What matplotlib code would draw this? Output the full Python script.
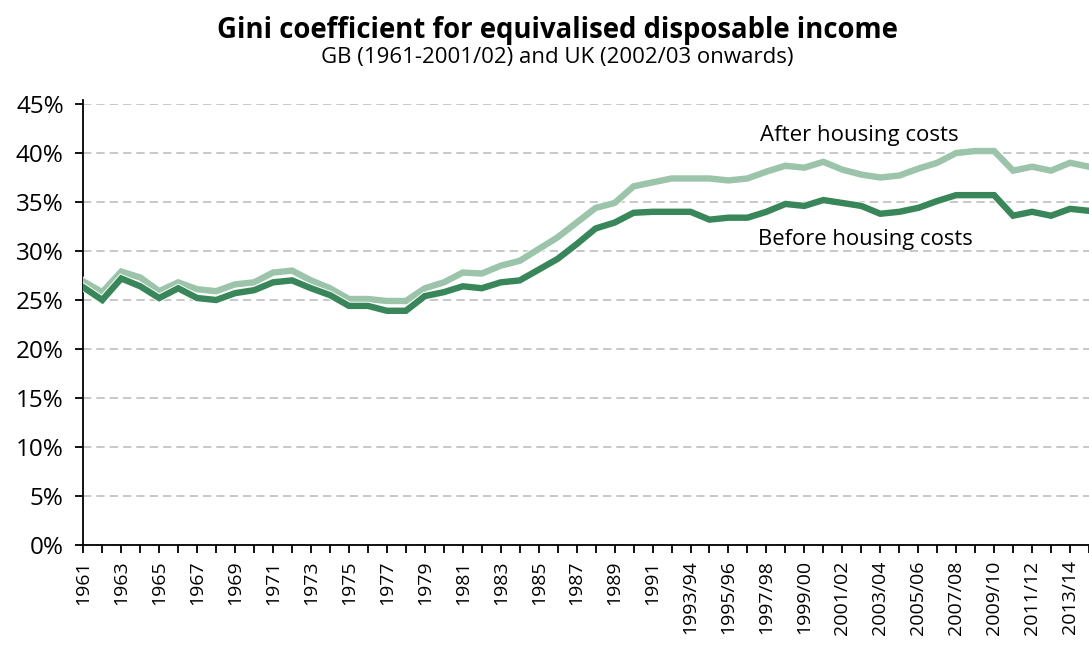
import matplotlib
matplotlib.use("Agg")
import matplotlib.pyplot as plt
import matplotlib.patheffects as pe

plt.rcParams["font.family"] = ["Open Sans", "DejaVu Sans"]

years = [str(y) for y in range(1961, 1993)] + [
    "%d/%02d" % (y, (y + 1) % 100) for y in range(1993, 2015)
]

# Gini, % (before housing costs)
bhc = [26.3, 25.0, 27.2, 26.4, 25.2, 26.2, 25.2, 25.0, 25.7, 26.0,
       26.8, 27.0, 26.2, 25.5, 24.4, 24.4, 23.9, 23.9, 25.4, 25.8,
       26.4, 26.2, 26.8, 27.0, 28.1, 29.2, 30.7, 32.3, 32.9, 33.9,
       34.0, 34.0, 34.0, 33.2, 33.4, 33.4, 34.0, 34.8, 34.6, 35.2,
       34.9, 34.6, 33.8, 34.0, 34.4, 35.1, 35.7, 35.7, 35.7, 33.6,
       34.0, 33.6, 34.3, 34.1]

# Gini, % (after housing costs)
ahc = [26.9, 25.8, 27.9, 27.3, 25.9, 26.8, 26.1, 25.9, 26.6, 26.8,
       27.8, 28.0, 27.0, 26.2, 25.1, 25.1, 24.9, 24.9, 26.2, 26.8,
       27.8, 27.7, 28.5, 29.0, 30.2, 31.4, 32.9, 34.4, 34.9, 36.6,
       37.0, 37.4, 37.4, 37.4, 37.2, 37.4, 38.1, 38.7, 38.5, 39.1,
       38.3, 37.8, 37.5, 37.7, 38.4, 39.0, 40.0, 40.2, 40.2, 38.2,
       38.6, 38.2, 39.0, 38.6]

dark = "#38865a"
light = "#9bc4aa"

fig = plt.figure(figsize=(10.89, 6.45), dpi=100)
ax = fig.add_axes([83.3 / 1089, 1 - 545 / 645, 1 - 83.3 / 1089, 441 / 645])

x = list(range(len(years)))
outline = [pe.Stroke(linewidth=6.0, foreground="white"), pe.Normal()]
ax.plot(x, ahc, color=light, lw=4.6, solid_joinstyle="miter",
        path_effects=outline, zorder=3)
ax.plot(x, bhc, color=dark, lw=4.6, solid_joinstyle="miter",
        path_effects=outline, zorder=4)

ax.set_xlim(0, 52.76)
ax.set_ylim(0, 45)
ax.set_yticks(range(0, 50, 5))
ax.set_yticklabels(["%d%%" % v for v in range(0, 50, 5)], fontsize=17.5)
ax.set_xticks(x)
ax.set_xticklabels([lab if i % 2 == 0 else "" for i, lab in enumerate(years)],
                   rotation=90, fontsize=14)

ax.grid(axis="y", color="#bfbfbf", ls=(0, (5, 3)), lw=1.2)
ax.set_axisbelow(True)
for s in ["top", "right"]:
    ax.spines[s].set_visible(False)
for s in ["left", "bottom"]:
    ax.spines[s].set_linewidth(1.3)
    ax.spines[s].set_color("black")
ax.spines["left"].set_bounds(0, 45.4)
ax.tick_params(axis="y", length=6, width=1.3, pad=8, colors="black")
ax.tick_params(axis="x", length=6, width=1.3, pad=5, colors="black")

ax.text(35.65, 41.8, "After housing costs", fontsize=16, va="center", ha="left")
ax.text(35.55, 31.2, "Before housing costs", fontsize=15.8, va="center", ha="left")

fig.text(0.512, 0.953, "Gini coefficient for equivalised disposable income",
         fontsize=19.8, fontweight="bold", ha="center", va="center")
fig.text(0.512, 0.911, "GB (1961-2001/02) and UK (2002/03 onwards)",
         fontsize=16, ha="center", va="center")

fig.savefig("out.png", dpi=100)
